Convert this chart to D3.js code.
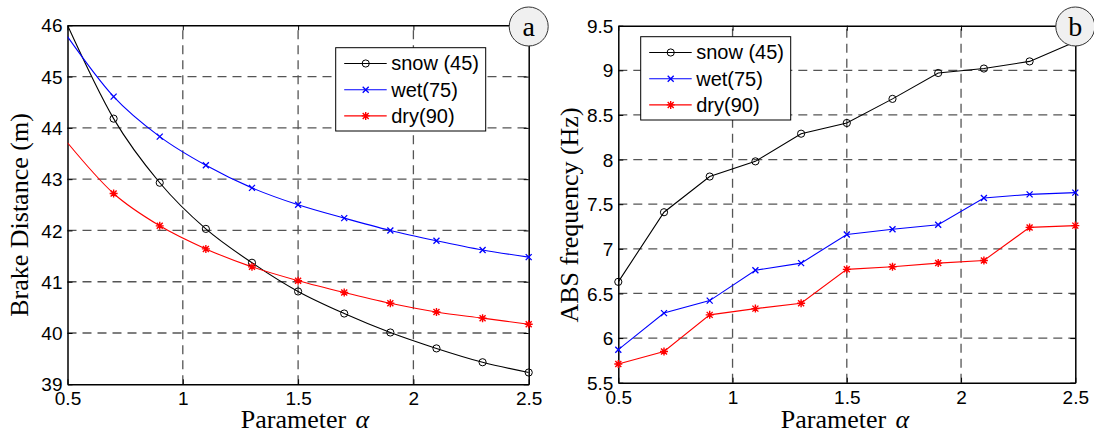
<!DOCTYPE html>
<html>
<head>
<meta charset="utf-8">
<script src="https://cdn.jsdelivr.net/npm/d3@7"></script>
<style>
  html, body { margin: 0; padding: 0; background: #fff; }
  svg { display: block; }
  .tick-label { font-family: Arial, "Liberation Sans", sans-serif; font-size: 19px; fill: #000; }
  .legend-label { font-family: Arial, "Liberation Sans", sans-serif; font-size: 20px; fill: #000; }
  .axis-title { font-family: "Times New Roman", "Liberation Serif", serif; font-size: 26px; fill: #000; }
  .badge { font-family: "Times New Roman", "Liberation Serif", serif; font-size: 28px; fill: #000; }
</style>
</head>
<body>
<svg id="chart" width="1094" height="437"></svg>
<script>
// Parameter alpha sampled in steps of 0.2
const alpha = [0.5, 0.7, 0.9, 1.1, 1.3, 1.5, 1.7, 1.9, 2.1, 2.3, 2.5];

// Brake distance (m) per road condition
const snowDistance = [46.0, 44.18, 42.93, 42.03, 41.37, 40.81, 40.38, 40.01, 39.70, 39.43, 39.23];
const wetDistance  = [45.78, 44.61, 43.83, 43.27, 42.83, 42.50, 42.24, 42.00, 41.80, 41.62, 41.48];
const dryDistance  = [43.71, 42.72, 42.09, 41.64, 41.29, 41.02, 40.79, 40.58, 40.41, 40.29, 40.17];

// ABS frequency (Hz) per road condition
const snowFreq = [6.63, 7.41, 7.81, 7.98, 8.29, 8.41, 8.68, 8.97, 9.02, 9.10, 9.32];
const wetFreq  = [5.87, 6.28, 6.42, 6.76, 6.84, 7.16, 7.22, 7.27, 7.57, 7.61, 7.63];
const dryFreq  = [5.71, 5.85, 6.26, 6.33, 6.39, 6.77, 6.80, 6.84, 6.87, 7.24, 7.26];

// Legend names and tick values
const seriesNames = ["snow (45)", "wet(75)", "dry(90)"];
const alphaTicks = [0.5, 1, 1.5, 2, 2.5];
const distanceTicks = [39, 40, 41, 42, 43, 44, 45, 46];
const freqTicks = [5.5, 6, 6.5, 7, 7.5, 8, 8.5, 9, 9.5];

const seriesStyle = [
  { color: "#000000", marker: "circle" },
  { color: "#0000ff", marker: "cross" },
  { color: "#ff0000", marker: "star" }
];

const svg = d3.select("#chart");

const panels = [
  {
    left: 67.5, right: 528.7, top: 25.3, bottom: 384.3,
    yDomain: [39, 46], yTicks: distanceTicks,
    series: [snowDistance, wetDistance, dryDistance],
    curve: d3.curveMonotoneX, firstMarker: 1,
    yTitle: "Brake Distance (m)", yTitleX: 28, xTitleX: 305,
    legend: { x: 335.7, y: 47.7 },
    badge: "a"
  },
  {
    left: 618.3, right: 1075.3, top: 25.7, bottom: 382.7,
    yDomain: [5.5, 9.5], yTicks: freqTicks,
    series: [snowFreq, wetFreq, dryFreq],
    curve: d3.curveLinear, firstMarker: 0,
    yTitle: "ABS frequency (Hz)", yTitleX: 578, xTitleX: 845,
    legend: { x: 640.7, y: 36.7 },
    badge: "b"
  }
];

function drawMarker(g, type, color, x, y) {
  if (type === "circle") {
    g.append("circle").attr("cx", x).attr("cy", y).attr("r", 3.6)
      .attr("fill", "none").attr("stroke", color).attr("stroke-width", 1);
  } else if (type === "cross") {
    const s = 3;
    g.append("path")
      .attr("d", `M${x - s},${y - s}L${x + s},${y + s}M${x - s},${y + s}L${x + s},${y - s}`)
      .attr("stroke", color).attr("stroke-width", 1.3).attr("fill", "none");
  } else {
    const s = 4, d = 3;
    g.append("path")
      .attr("d", `M${x},${y - s}L${x},${y + s}M${x - s},${y}L${x + s},${y}` +
                 `M${x - d},${y - d}L${x + d},${y + d}M${x - d},${y + d}L${x + d},${y - d}`)
      .attr("stroke", color).attr("stroke-width", 1.4).attr("fill", "none");
  }
}

panels.forEach((p, pi) => {
  const x = d3.scaleLinear().domain([0.5, 2.5]).range([p.left, p.right]);
  const y = d3.scaleLinear().domain(p.yDomain).range([p.bottom, p.top]);
  const g = svg.append("g");
  const clipId = "clip" + pi;

  svg.append("clipPath").attr("id", clipId)
    .append("rect").attr("x", p.left).attr("y", p.top)
    .attr("width", p.right - p.left).attr("height", p.bottom - p.top);

  // Dashed grid
  const grid = g.append("g").attr("stroke", "#555").attr("stroke-width", 1.3)
    .attr("stroke-dasharray", "9,6");
  alphaTicks.slice(1, -1).forEach(t => {
    grid.append("line").attr("x1", x(t)).attr("x2", x(t))
      .attr("y1", p.bottom).attr("y2", p.top);
  });
  p.yTicks.slice(1, -1).forEach(t => {
    grid.append("line").attr("x1", p.left).attr("x2", p.right)
      .attr("y1", y(t)).attr("y2", y(t));
  });

  // Axes with inward ticks, drawn on every side of the frame
  const fmt = d => String(d);
  const axes = [
    { gen: d3.axisBottom(x).tickValues(alphaTicks).tickFormat(fmt), tr: `translate(0,${p.bottom})`, labels: true },
    { gen: d3.axisTop(x).tickValues(alphaTicks).tickFormat(""), tr: `translate(0,${p.top})`, labels: false },
    { gen: d3.axisLeft(y).tickValues(p.yTicks).tickFormat(fmt), tr: `translate(${p.left},0)`, labels: true },
    { gen: d3.axisRight(y).tickValues(p.yTicks).tickFormat(""), tr: `translate(${p.right},0)`, labels: false }
  ];
  axes.forEach((a, ai) => {
    const ag = g.append("g").attr("transform", a.tr)
      .call(a.gen.tickSizeInner(-5).tickSizeOuter(0));
    ag.select(".domain").attr("stroke", "#000").attr("stroke-width", 1.5);
    ag.selectAll(".tick line").attr("stroke", "#000").attr("stroke-width", 1);
    ag.selectAll(".tick text").attr("class", "tick-label").attr("fill", "#000")
      .style("font-family", null).style("font-size", null);
    if (ai === 0) ag.selectAll(".tick text").attr("dy", null).attr("y", 21);
    if (ai === 2) ag.selectAll(".tick text").attr("x", -5).attr("dy", "0.35em");
  });
  g.selectAll("g").attr("font-size", null).attr("font-family", null);

  // Series lines and markers
  const line = d3.line().x((d, i) => x(alpha[i])).y(d => y(d)).curve(p.curve);
  const plot = g.append("g").attr("clip-path", `url(#${clipId})`);
  const markerLayer = g.append("g");
  p.series.forEach((vals, si) => {
    const st = seriesStyle[si];
    plot.append("path").datum(vals).attr("d", line)
      .attr("fill", "none").attr("stroke", st.color).attr("stroke-width", 1.1);
    vals.forEach((v, i) => {
      if (i >= p.firstMarker) drawMarker(markerLayer, st.marker, st.color, x(alpha[i]), y(v));
    });
  });

  // Legend
  const lg = g.append("g").attr("transform", `translate(${p.legend.x},${p.legend.y})`);
  lg.append("rect").attr("width", 150).attr("height", 83.3)
    .attr("fill", "#fff").attr("stroke", "#000").attr("stroke-width", 1);
  seriesNames.forEach((name, si) => {
    const st = seriesStyle[si];
    const ry = 15.8 + si * 26.2;
    lg.append("line").attr("x1", 8.5).attr("x2", 51).attr("y1", ry).attr("y2", ry)
      .attr("stroke", st.color).attr("stroke-width", 1.1);
    drawMarker(lg, st.marker, st.color, 30, ry);
    lg.append("text").attr("class", "legend-label").attr("x", 55.5).attr("y", ry + 7).text(name);
  });

  // Axis titles
  g.append("text").attr("class", "axis-title")
    .attr("transform", `translate(${p.yTitleX},${215}) rotate(-90)`)
    .attr("text-anchor", "middle").text(p.yTitle);
  const xt = g.append("text").attr("class", "axis-title")
    .attr("x", p.xTitleX).attr("y", 428).attr("text-anchor", "middle");
  xt.append("tspan").text("Parameter ");
  xt.append("tspan").attr("dx", 3).style("font-style", "italic").text("α");

  // Panel badge on the top-right corner
  const bg = g.append("g").attr("transform", `translate(${p.right},${26.5})`);
  bg.append("circle").attr("r", 19.5).attr("fill", "#f0f0f0")
    .attr("stroke", "#333").attr("stroke-width", 1);
  bg.append("text").attr("class", "badge").attr("text-anchor", "middle")
    .attr("y", 9).text(p.badge);
});
</script>
</body>
</html>
